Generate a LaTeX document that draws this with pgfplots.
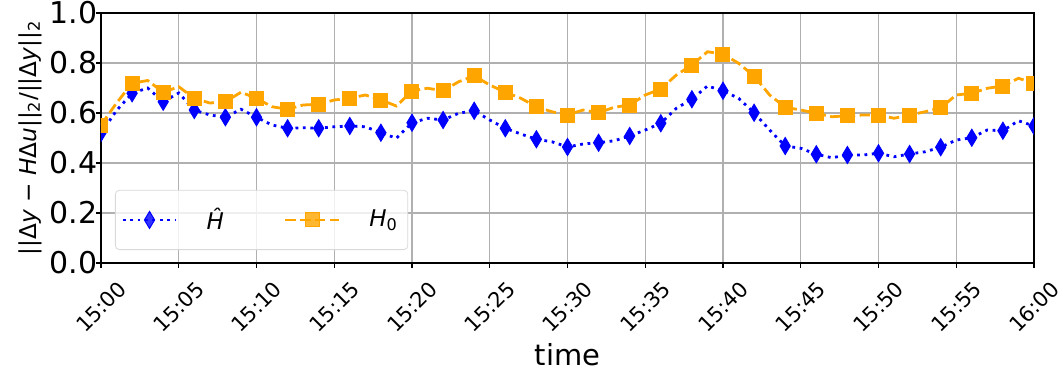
\documentclass[border=0pt]{standalone}
\usepackage{fontspec}
\setmainfont{DejaVu Sans}
\usepackage{pgfplots}
\pgfplotsset{compat=1.18}
\definecolor{mplorange}{RGB}{255,165,0}
\definecolor{gridgray}{RGB}{176,176,176}
\begin{document}
\begin{tikzpicture}
\begin{axis}[
  scale only axis, width=466.5pt, height=125pt,
  xmin=0, xmax=60, ymin=0, ymax=1,
  xtick={0,5,...,60},
  xticklabels={15:00,15:05,15:10,15:15,15:20,15:25,15:30,15:35,15:40,15:45,15:50,15:55,16:00},
  ytick={0,0.2,0.4,0.6,0.8,1.0},
  yticklabels={0.0,0.2,0.4,0.6,0.8,1.0},
  grid=major,
  major grid style={gridgray, line width=0.55pt},
  axis line style={line width=0.55pt},
  tick align=outside, tick pos=left,
  major tick length=2.45pt,
  every tick/.style={black, line width=0.55pt},
  x tick label style={font=\fontsize{10.5}{12}\selectfont, yshift=-19.5pt, rotate=45, anchor=center},
  y tick label style={font=\fontsize{15}{17}\selectfont, inner xsep=0pt, xshift=0.7pt},
  xlabel={time},
  ylabel={||Δ\textit{y} − \textit{H}Δ\textit{u}||\textsubscript{2}/||Δ\textit{y}||\textsubscript{2}},
  every axis x label/.style={at={(axis description cs:0.5,-0.368)}, anchor=center, font=\fontsize{14.5}{17}\selectfont},
  every axis y label/.style={at={(axis description cs:-0.0761,0.5)}, rotate=90, anchor=center, font=\fontsize{11.6}{14}\selectfont},
  clip marker paths=true,
  legend columns=2,
  legend cell align=left,
  legend style={at={(axis description cs:0.015,0.052)}, anchor=south west,
    draw=black!15, rounded corners=2pt, fill=white, fill opacity=0.8, text opacity=1,
    font=\fontsize{11.5}{13}\selectfont, inner xsep=3pt, inner ysep=6.75pt,
    /tikz/every odd column/.append style={column sep=12.5pt},
    /tikz/every even column/.append style={column sep=28pt}},
  legend image code/.code={\draw[mark repeat=2,mark phase=2,#1] plot coordinates {(0cm,0cm) (0.47cm,0cm) (0.94cm,0cm)};},
]
\addplot[blue, line width=1.4pt, dash pattern=on 1.4pt off 2.3pt, mark=diamond*, mark size=4.25pt, mark repeat=2,
  mark options={solid, xscale=0.8, fill=blue, draw=blue, line width=0.5pt}] coordinates {
(0,0.52) (1,0.61) (2,0.679) (3,0.70) (4,0.645) (5,0.68) (6,0.612) (7,0.592) (8,0.583) (9,0.615)
(10,0.583) (11,0.552) (12,0.539) (13,0.541) (14,0.539) (15,0.545) (16,0.548) (17,0.545) (18,0.521) (19,0.499)
(20,0.561) (21,0.579) (22,0.572) (23,0.599) (24,0.609) (25,0.572) (26,0.539) (27,0.516) (28,0.495) (29,0.485)
(30,0.464) (31,0.476) (32,0.481) (33,0.489) (34,0.508) (35,0.532) (36,0.559) (37,0.619) (38,0.655) (39,0.708)
(40,0.689) (41,0.659) (42,0.601) (43,0.532) (44,0.468) (45,0.459) (46,0.435) (47,0.421) (48,0.432) (49,0.432)
(50,0.439) (51,0.425) (52,0.436) (53,0.445) (54,0.463) (55,0.492) (56,0.501) (57,0.532) (58,0.529) (59,0.569)
(60,0.548)};
\addlegendentry{\textit{Ĥ}}
\addplot[mplorange, line width=1.4pt, dash pattern=on 5.2pt off 2.2pt, mark=square*, mark size=3.5pt, mark repeat=2,
  mark options={solid, fill=mplorange, draw=mplorange, line width=0.5pt}] coordinates {
(0,0.552) (1,0.64) (2,0.719) (3,0.73) (4,0.683) (5,0.705) (6,0.659) (7,0.64) (8,0.645) (9,0.683)
(10,0.659) (11,0.625) (12,0.615) (13,0.632) (14,0.635) (15,0.652) (16,0.659) (17,0.672) (18,0.652) (19,0.628)
(20,0.688) (21,0.699) (22,0.689) (23,0.725) (24,0.749) (25,0.712) (26,0.683) (27,0.659) (28,0.625) (29,0.605)
(30,0.592) (31,0.612) (32,0.601) (33,0.623) (34,0.632) (35,0.672) (36,0.696) (37,0.752) (38,0.792) (39,0.845)
(40,0.836) (41,0.799) (42,0.748) (43,0.672) (44,0.623) (45,0.612) (46,0.599) (47,0.585) (48,0.589) (49,0.592)
(50,0.592) (51,0.579) (52,0.592) (53,0.605) (54,0.621) (55,0.672) (56,0.679) (57,0.699) (58,0.708) (59,0.739)
(60,0.719)};
\addlegendentry{\textit{H}\textsubscript{0}}
\end{axis}
\pgfresetboundingbox
\path[use as bounding box] ([xshift=-50.5pt,yshift=-56.5pt]current axis.south west) rectangle ++(531pt,188pt);
\end{tikzpicture}
\end{document}
